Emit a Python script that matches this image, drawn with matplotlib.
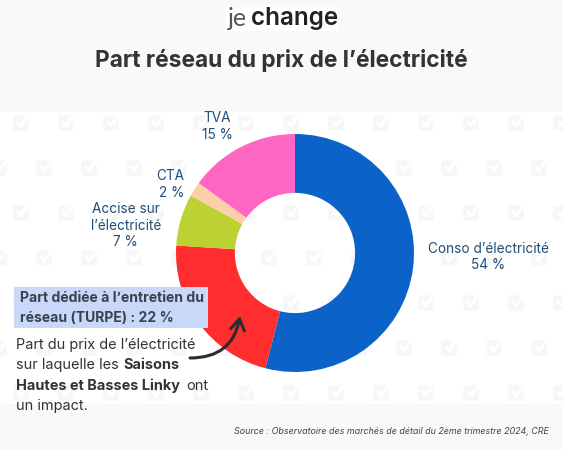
import matplotlib
matplotlib.use("Agg")
import matplotlib.pyplot as plt
from matplotlib.patches import Rectangle, FancyBboxPatch, FancyArrowPatch

categories = ["Conso d’électricité", "TURPE", "Accise sur\nl’électricité", "CTA", "TVA"]
values = [54, 22, 7, 2, 15]
colors = ["#0b63c9", "#ff2d2d", "#bcd233", "#fdcfa8", "#ff66c4"]

W, H = 563, 450
plt.rcParams['font.family'] = ['Inter', 'DejaVu Sans']
fig = plt.figure(figsize=(W/100, H/100), dpi=100, facecolor="#ffffff")

bg = fig.add_axes([0, 0, 1, 1], zorder=0)
bg.set_xlim(0, W); bg.set_ylim(H, 0); bg.axis("off")
bg.add_patch(Rectangle((0, 0), W, 112, fc="#f9f9f9", ec="none"))
bg.add_patch(Rectangle((0, 404), W, 46, fc="#f9f9f9", ec="none"))
# watermark
for r in range(7):
    y = 123 + 45*r
    off = 21 if r % 2 == 0 else -1
    for c in range(14):
        x = off + 45*c
        if y < 404:
            bg.add_patch(FancyBboxPatch((x-7, y-7), 14, 14, boxstyle="round,pad=0,rounding_size=2",
                                        fc="#f7f7f7", ec="#f7f7f7", lw=1))
            bg.plot([x-3, x, x+6], [y-1, y+3, y-6], color="#ffffff", lw=2.2, solid_capstyle="round")

# logo
bg.add_patch(FancyBboxPatch((226, 7), 112, 24, boxstyle="round,pad=0,rounding_size=3", fc="#ffffff", ec="none"))
bg.text(228, 19, "je", fontsize=18, color="#555555", va="center", ha="left", family="Lato")
bg.text(251, 18.5, "change", fontsize=17.5, fontweight="semibold", color="#222222", va="center", ha="left")

bg.text(281, 60, "Part réseau du prix de l’électricité", fontsize=16.4, fontweight="bold",
        color="#333333", ha="center", va="center")

cx, cy, R = 295, 253, 119
ax = fig.add_axes([(cx-R)/W, 1-(cy+R)/H, 2*R/W, 2*R/H], zorder=1)
ax.pie(values, colors=colors, startangle=90, counterclock=False, radius=1,
       wedgeprops=dict(width=0.495, edgecolor="none"))
ax.set_xlim(-1, 1); ax.set_ylim(-1, 1)
ax.set_aspect("equal")

top = fig.add_axes([0, 0, 1, 1], zorder=2)
top.set_xlim(0, W); top.set_ylim(H, 0); top.axis("off"); top.patch.set_alpha(0)
lab = dict(fontsize=9.8, color="#1f4e79", linespacing=1.2, va="center")
top.text(488, 257, f"{categories[0]}\n{values[0]} %", ha="center", **lab)
top.text(161, 225.5, f"{categories[2]}\n{values[2]} %", ha="right", multialignment="center", **lab)
top.text(184, 184.5, f"{categories[3]}\n{values[3]} %", ha="right", multialignment="right", **lab)
top.text(217, 126.5, f"{categories[4]}\n{values[4]} %", ha="center", **lab)

top.add_patch(Rectangle((14, 287), 194, 41, fc="#c9d8f8", ec="none"))
top.text(19.5, 298, "Part dédiée à l’entretien du", fontsize=10.1, fontweight="bold", color="#3a4250", va="center")
top.text(19.5, 318, f"réseau (TURPE) : {values[1]} %", fontsize=10.1, fontweight="bold", color="#3a4250", va="center")

tk = dict(fontsize=10.45, color="#333333", va="center", ha="left")
top.text(16, 345, "Part du prix de l’électricité", **tk)
top.text(16, 365, "sur laquelle les", **tk)
top.text(123, 365, "Saisons", fontweight="bold", **tk)
top.text(16, 386, "Hautes et Basses Linky", fontweight="bold", **tk)
top.text(186, 386, "ont", **tk)
top.text(16, 406, "un impact.", **tk)

top.add_patch(FancyArrowPatch((190, 358), (240, 316), connectionstyle="arc3,rad=0.42",
                              arrowstyle="->,head_length=8,head_width=5", color="#2b2b2b", lw=2.2,
                              shrinkA=0, shrinkB=0))

top.text(549, 432, "Source : Observatoire des marchés de détail du 2ème trimestre 2024, CRE",
         fontsize=6.42, style="italic", color="#444444", ha="right", va="center")

fig.savefig("out.png", dpi=100, facecolor=fig.get_facecolor())
